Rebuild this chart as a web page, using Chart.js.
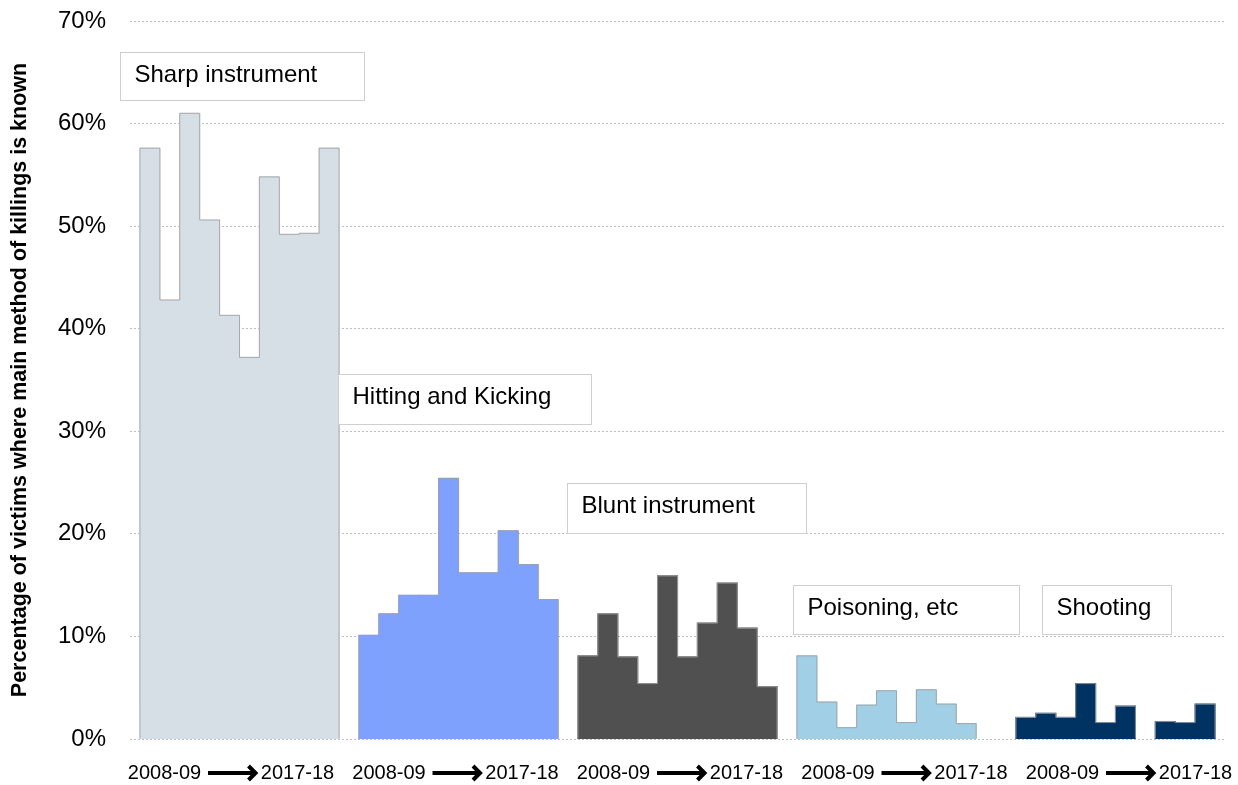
<!DOCTYPE html>
<html><head><meta charset="utf-8">
<script src="https://cdn.jsdelivr.net/npm/chart.js@4/dist/chart.umd.min.js"></script>
<style>html,body{margin:0;padding:0;background:#fff}canvas{display:block}</style>
</head><body><canvas id="c" width="1238" height="785"></canvas>
<script>
// ---- data ----
const years = ['2008-09','2009-10','2010-11','2011-12','2012-13','2013-14','2014-15','2015-16','2016-17','2017-18'];
const methods = ['Sharp instrument','Hitting and Kicking','Blunt instrument','Poisoning, etc','Shooting'];
const sharpInstrument = [57.6, 42.8, 61.0, 50.6, 41.3, 37.2, 54.8, 49.2, 49.3, 57.6];
const hittingKicking  = [10.1, 12.2, 14.0, 14.0, 25.4, 16.2, 16.2, 20.3, 17.0, 13.6];
const bluntInstrument = [8.1, 12.2, 8.0, 5.4, 15.9, 8.0, 11.3, 15.2, 10.8, 5.1];
const poisoningEtc    = [8.1, 3.6, 1.1, 3.3, 4.7, 1.6, 4.8, 3.4, 1.5, null];
const shootingVals    = [2.1, 2.5, 2.1, 5.4, 1.6, 3.2, null, 1.7, 1.6, 3.4];
const yTickValues = [0, 10, 20, 30, 40, 50, 60, 70];
const axisStartLabel = '2008-09';
const axisEndLabel = '2017-18';
const yTitle = 'Percentage of victims where main method of killings is known';

// ---- styles ----
const series = [sharpInstrument, hittingKicking, bluntInstrument, poisoningEtc, shootingVals];
const colors = ['#d7dfe6', '#7fa1fe', '#505050', '#a1cfe6', '#003262'];
const FONT = "'Liberation Sans', Arial, sans-serif";

// category slots: leading pad, each group of 10 years followed by a gap/pad slot
const labels = ['pad0'];
methods.forEach((m, g) => {
  years.forEach(y => labels.push(m + ' ' + y));
  labels.push('gap' + (g + 1));
});
const groupStart = g => 1 + g * (years.length + 1);

const datasets = methods.map((m, g) => {
  const data = new Array(labels.length).fill(null);
  series[g].forEach((v, j) => { data[groupStart(g) + j] = v; });
  return { label: m, data, backgroundColor: colors[g], borderWidth: 0, grouped: false,
           categoryPercentage: 1, barPercentage: 1, inflateAmount: 0.6 };
});

// annotation boxes (x in slot units, y in % units)
const boxes = [
  { text: methods[0], x0: -0.5,  x1: 11.75, yTop: 67.0,  yBot: 62.3 },
  { text: methods[1], x0: 10.45, x1: 23.15, yTop: 35.56, yBot: 30.68 },
  { text: methods[2], x0: 21.95, x1: 33.95, yTop: 24.96, yBot: 20.08 },
  { text: methods[3], x0: 33.31, x1: 44.66, yTop: 15.01, yBot: 10.2 },
  { text: methods[4], x0: 45.79, x1: 52.28, yTop: 15.01, yBot: 10.2 }
];

const decor = {
  id: 'decor',
  afterDatasetsDraw(chart) {
    const ctx = chart.ctx;
    // bar envelopes
    ctx.save();
    ctx.strokeStyle = 'rgba(160,160,160,0.85)';
    ctx.lineWidth = 1;
    chart.data.datasets.forEach((ds, di) => {
      const meta = chart.getDatasetMeta(di);
      let seg = [];
      const flush = () => {
        if (!seg.length) return;
        ctx.beginPath();
        const f = seg[0];
        ctx.moveTo(f.x - f.width / 2, f.base);
        seg.forEach(b => {
          ctx.lineTo(b.x - b.width / 2, b.y);
          ctx.lineTo(b.x + b.width / 2, b.y);
        });
        const l = seg[seg.length - 1];
        ctx.lineTo(l.x + l.width / 2, l.base);
        ctx.stroke();
        seg = [];
      };
      meta.data.forEach((el, i) => {
        if (ds.data[i] === null || ds.data[i] === undefined) { flush(); return; }
        seg.push(el);
      });
      flush();
    });
    ctx.restore();
    // boxes
    const xs = chart.scales.x, ys = chart.scales.y;
    ctx.save();
    boxes.forEach(b => {
      const l = Math.round(xs.getPixelForValue(b.x0)) + 0.5;
      const r = Math.round(xs.getPixelForValue(b.x1)) + 0.5;
      const t = Math.round(ys.getPixelForValue(b.yTop)) + 0.5;
      const bt = Math.round(ys.getPixelForValue(b.yBot)) + 0.5;
      ctx.fillStyle = '#fff';
      ctx.fillRect(l, t, r - l, bt - t);
      ctx.strokeStyle = '#cfcfcf';
      ctx.lineWidth = 1;
      ctx.strokeRect(l, t, r - l, bt - t);
      ctx.fillStyle = '#000';
      ctx.font = '24px ' + FONT;
      ctx.textAlign = 'left';
      ctx.textBaseline = 'alphabetic';
      ctx.fillText(b.text, l + 14, t + 29.5);
    });
    ctx.restore();
  },
  afterDraw(chart) {
    const ctx = chart.ctx;
    const area = chart.chartArea;
    const y = area.bottom + 34;
    ctx.save();
    ctx.fillStyle = '#000';
    ctx.strokeStyle = '#000';
    ctx.font = '20px ' + FONT;
    ctx.textAlign = 'center';
    ctx.textBaseline = 'middle';
    methods.forEach((m, g) => {
      const c = area.left + 34.5 + 224.5 * g;
      ctx.fillText(axisStartLabel, c, y);
      ctx.fillText(axisEndLabel, c + 133, y);
      // arrow
      ctx.lineWidth = 4;
      ctx.lineCap = 'butt';
      ctx.lineJoin = 'miter';
      ctx.beginPath();
      ctx.moveTo(c + 43.5, y);
      ctx.lineTo(c + 90, y);
      ctx.stroke();
      ctx.beginPath();
      ctx.moveTo(c + 84, y - 7);
      ctx.lineTo(c + 91, y);
      ctx.lineTo(c + 84, y + 7);
      ctx.stroke();
    });
    ctx.restore();
  }
};

new Chart(document.getElementById('c'), {
  type: 'bar',
  data: { labels, datasets },
  plugins: [decor],
  options: {
    responsive: false,
    animation: false,
    devicePixelRatio: 1,
    layout: { padding: { top: 21, right: 13, bottom: 46, left: 0 } },
    plugins: { legend: { display: false }, tooltip: { enabled: false } },
    scales: {
      x: { display: false, offset: false, grid: { display: false } },
      y: {
        min: 0, max: 70,
        afterFit(s) { s.width = 130; s.paddingTop = 0; s.paddingBottom = 0; },
        afterBuildTicks(s) { s.ticks = yTickValues.map(v => ({ value: v })); },
        ticks: { callback: v => v + '%', font: { family: FONT, size: 24 }, color: '#000', padding: 24 },
        grid: { color: '#bdbdbd', drawTicks: false, lineWidth: 1 },
        border: { display: false, dash: [2, 2] },
        title: { display: true, text: yTitle, color: '#000',
                 font: { family: FONT, size: 21.5, weight: 'bold' }, padding: { top: 7, bottom: 0 } }
      }
    }
  }
});
</script>
</body></html>
